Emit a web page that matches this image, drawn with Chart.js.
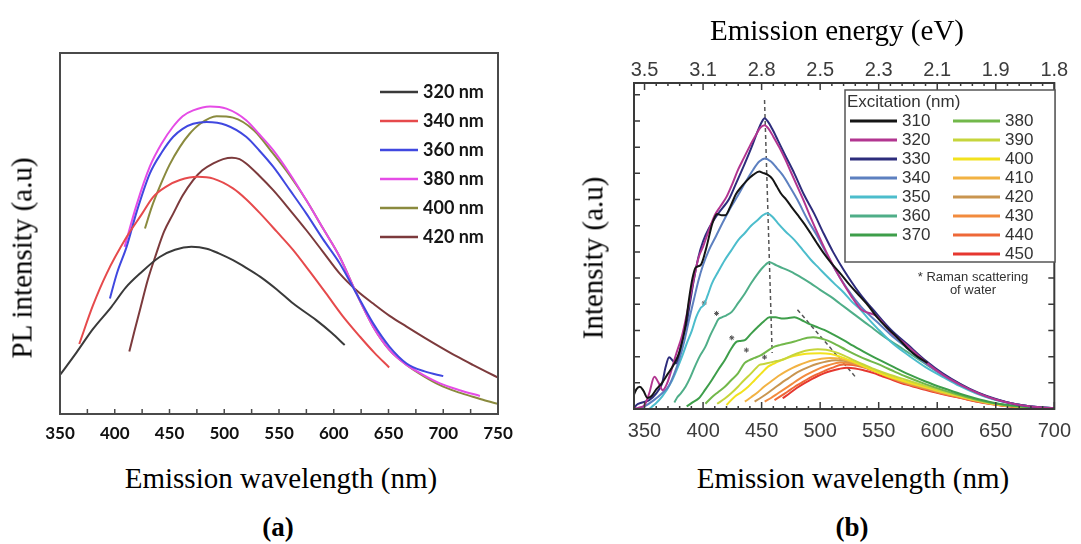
<!DOCTYPE html>
<html>
<head>
<meta charset="utf-8">
<script src="https://cdn.jsdelivr.net/npm/chart.js@4.4.1/dist/chart.umd.min.js"></script>
<style>
  body { margin: 0; width: 1081px; height: 544px; background: #fff; position: relative; overflow: hidden; }
  .cv { position: absolute; }
  .lbl { position: absolute; font-family: "Liberation Serif", "Times New Roman", serif; font-size: 29px; color: #000;
         white-space: nowrap; transform: translate(-50%, -50%); line-height: 1; }
  .rot { transform: translate(-50%, -50%) rotate(-90deg); }
  .tag { font-weight: bold; font-size: 27px; }
</style>
</head>
<body>
<canvas id="chartA" class="cv" style="left:0;top:0" width="540" height="460"></canvas>
<canvas id="chartB" class="cv" style="left:560px;top:40px" width="521" height="420"></canvas>

<div class="lbl rot" style="left:22px;top:258px">PL intensity (a.u)</div>
<div class="lbl" style="left:281px;top:478px">Emission wavelength (nm)</div>
<div class="lbl tag" style="left:278px;top:527px">(a)</div>
<div class="lbl" style="left:837px;top:30px">Emission energy (eV)</div>
<div class="lbl rot" style="left:593px;top:258px">Intensity (a.u)</div>
<div class="lbl" style="left:853px;top:478px">Emission wavelength (nm)</div>
<div class="lbl tag" style="left:852px;top:527px">(b)</div>

<script>
"use strict"

/* ---------- panel (a): PL spectra ---------- */
const aTicks = [350, 400, 450, 500, 550, 600, 650, 700, 750]
const aLabels = ['320 nm', '340 nm', '360 nm', '380 nm', '400 nm', '420 nm']

const a320x = [350, 365, 380, 397, 410, 423, 441, 455, 470, 484, 495, 508, 520, 533, 548, 563, 584, 598, 610]
const a320y = [10.8, 17, 23.5, 29.7, 35, 38.9, 43.5, 45.5, 46.3, 45.8, 44.5, 42.6, 40.5, 38, 34.5, 30.6, 26, 22.5, 19.1]
const a340x = [367.6, 380, 392.6, 410.8, 425, 435, 447, 459.5, 476, 490, 508, 520, 533, 548, 563, 578, 593, 608, 624, 637, 650.6]
const a340y = [19.4, 30, 38.9, 49, 55.5, 60.1, 63, 64.8, 65.7, 65.2, 62.5, 59.5, 55.5, 50.5, 45.4, 39.5, 33.4, 27.2, 21.4, 17, 12.9]
const a360x = [395.6, 402, 410.8, 420, 432, 443, 453.4, 462, 471.6, 484, 502, 520, 532, 544.7, 560, 575, 590, 605.5, 620.7, 636, 651, 666.5, 683, 700]
const a360y = [32, 39, 46.3, 56, 66.6, 72.5, 76.8, 79, 80.4, 80.9, 80, 76.8, 73, 68.5, 62, 55.5, 48.5, 41.7, 33.4, 25.1, 18.6, 14, 11.8, 10.5]
const a380x = [409, 420, 432, 443, 453, 462, 471.6, 487, 502, 520, 532, 544.7, 560, 575, 590, 605.5, 620.7, 636, 651, 666.5, 682, 697, 715, 733.5]
const a380y = [46.3, 58, 68.5, 75, 79.5, 82.5, 84.1, 85.2, 84.6, 81.4, 77.5, 73.1, 66.5, 59.2, 51.5, 43.5, 33.4, 24.2, 17.7, 13.6, 10.8, 8.5, 6.6, 5]
const a400x = [427.6, 434, 441, 450, 459.5, 468, 478, 493, 508, 527, 544.7, 560, 575, 590, 605.5, 620.7, 636, 651, 666.5, 682, 697, 712, 727, 740, 750]
const a400y = [51.4, 57.5, 62.9, 69, 74, 77.5, 80.4, 82.5, 82.1, 78.6, 72.1, 66, 59.2, 51.5, 43.5, 33.4, 24.2, 17.7, 13.6, 10.5, 8, 6.2, 4.8, 3.6, 2.8]
const a420x = [413.3, 418, 423, 430, 438, 445, 453.4, 462, 471.6, 480, 490, 499, 507, 514, 520, 532, 544.7, 560, 575, 590, 605.5, 620.7, 636, 651, 666.5, 682, 697, 712, 727, 740, 750]
const a420y = [17.3, 23, 28.8, 37, 44.5, 50.5, 55.5, 60.5, 64.8, 67.5, 69.4, 70.6, 71, 70.6, 69.4, 66, 62, 56.5, 50.9, 45, 38.9, 34.3, 30.6, 27.2, 24.2, 21.3, 18.6, 16, 13.6, 11.6, 10.1]

/* ---------- panel (b): excitation dependent spectra ---------- */
const nmTicks = [350, 400, 450, 500, 550, 600, 650, 700]
const evTickLabels = ['3.5', '3.1', '2.8', '2.5', '2.3', '2.1', '1.9', '1.8']
const bLabels = ['310', '320', '330', '340', '350', '360', '370', '380', '390', '400', '410', '420', '430', '440', '450']

const b310x = [341, 343, 346, 349, 352.5, 356, 360, 365, 370, 375, 380, 385, 388, 391, 393.6, 398, 403, 408, 412, 416, 419, 423, 428, 433, 438, 443, 448, 451, 455, 459, 463, 467, 471, 475, 480.6, 486, 492, 497, 503, 509, 517, 525, 534, 541, 548, 556, 565, 575, 583, 591.7]
const b310y = [0.55, 0.75, 0.85, 0.7, 0.42, 0.5, 0.75, 1.0, 1.35, 1.7, 2.2, 3.2, 4.2, 5.0, 5.4, 5.5, 6.2, 7.1, 7.45, 7.4, 7.4, 7.7, 8.2, 8.5, 8.75, 8.95, 9.07, 9.02, 8.95, 8.8, 8.5, 8.2, 8.0, 7.75, 7.42, 7.1, 6.7, 6.35, 5.95, 5.6, 5.19, 4.75, 4.3, 3.95, 3.54, 3.15, 2.77, 2.3, 2.0, 1.76]
const b320x = [341, 345, 350, 354, 358.4, 362, 365.5, 369, 373, 377, 382, 386, 390, 396, 400, 405, 410, 415, 420, 425, 430, 435, 440, 445, 449, 452.6, 456, 460, 465, 470, 475, 480, 486, 492, 500, 508, 517, 526, 535, 548, 560, 575, 590, 605, 620, 635, 650, 665, 680, 700]
const b320y = [0, 0.05, 0.15, 0.6, 1.23, 1.0, 0.72, 0.95, 1.49, 2.1, 2.8, 3.6, 4.5, 5.76, 6.2, 6.83, 7.4, 7.75, 8.1, 8.6, 9.15, 9.6, 10.05, 10.45, 10.75, 10.84, 10.7, 10.4, 10.0, 9.55, 9.05, 8.55, 7.95, 7.3, 6.5, 5.75, 5.0, 4.35, 3.8, 3.55, 2.95, 2.4, 1.8, 1.3, 0.92, 0.6, 0.36, 0.2, 0.1, 0.03]
const b330x = [341, 343, 348, 354, 360, 365, 368, 371, 374, 376.7, 380, 383, 386, 389, 392, 396, 400, 405, 413, 417, 421.7, 428, 435.7, 441, 447, 450, 452.6, 455, 459, 463.8, 470, 477.9, 486, 494.8, 503, 511, 520, 534, 548, 560, 575, 590, 605, 620, 635, 650, 665, 680, 700]
const b330y = [0, 0.15, 0.25, 0.34, 0.6, 0.98, 1.6, 1.98, 1.85, 1.74, 2.2, 2.8, 3.3, 4.1, 4.9, 5.8, 6.4, 6.9, 7.47, 7.7, 7.98, 8.6, 9.38, 9.95, 10.65, 10.95, 11.1, 11.0, 10.7, 10.27, 9.7, 9.0, 8.2, 7.47, 6.7, 6.0, 5.32, 4.4, 3.65, 3.05, 2.45, 1.85, 1.35, 0.95, 0.62, 0.38, 0.2, 0.1, 0.03]
const b340x = [345, 350, 358, 365, 371, 375, 379.5, 384, 388, 392, 396, 400, 405, 411, 417, 423, 430, 436, 442.5, 448, 453, 458, 463, 468, 474, 480.7, 489, 497.6, 510, 523, 535, 548, 560, 575, 590, 605, 620, 635, 650, 665, 680, 700]
const b340y = [0, 0.1, 0.34, 0.6, 0.9, 1.3, 1.87, 2.6, 3.4, 4.15, 4.9, 5.5, 6.07, 6.6, 7.14, 7.65, 8.17, 8.65, 9.12, 9.45, 9.57, 9.45, 9.2, 8.93, 8.5, 7.98, 7.25, 6.6, 5.55, 4.6, 3.9, 3.35, 2.85, 2.3, 1.75, 1.28, 0.9, 0.6, 0.36, 0.2, 0.1, 0.03]
const b350x = [354, 358, 365, 373.6, 382, 386, 390.5, 394, 397.8, 400.6, 404, 407.5, 413, 418.6, 424, 430, 435.7, 441, 446.9, 451, 455, 459, 463.8, 470, 477.9, 485, 492, 499, 506, 513, 520.5, 527, 534.6, 541, 548.6, 562, 576.7, 590, 605, 619, 633, 647, 661, 680, 700]
const b350y = [0, 0.15, 0.47, 1.1, 2.0, 2.5, 3.0, 3.5, 3.85, 3.97, 4.35, 4.79, 5.25, 5.69, 6.05, 6.45, 6.72, 7.0, 7.23, 7.4, 7.48, 7.35, 7.1, 6.8, 6.46, 6.08, 5.7, 5.38, 5.06, 4.75, 4.43, 4.1, 3.79, 3.45, 3.09, 2.5, 2.01, 1.6, 1.22, 0.88, 0.6, 0.38, 0.23, 0.1, 0.03]
const b360x = [375.5, 378, 381, 385, 389, 393, 397, 402, 406, 410.4, 413, 416, 420, 424.5, 430, 435.7, 441, 446.9, 452, 456.7, 462, 468, 475, 483, 492, 500, 509, 517, 526, 534, 543, 551, 560, 567, 573.7, 590, 605, 620, 633, 647, 661, 680, 700]
const b360y = [0.25, 0.45, 0.6, 0.85, 1.2, 1.62, 2.0, 2.38, 2.8, 3.2, 3.42, 3.5, 3.58, 3.71, 4.05, 4.41, 4.8, 5.18, 5.45, 5.6, 5.5, 5.38, 5.25, 5.05, 4.8, 4.55, 4.29, 4.02, 3.72, 3.45, 3.15, 2.88, 2.6, 2.4, 2.2, 1.72, 1.3, 0.94, 0.63, 0.4, 0.24, 0.1, 0.03]
const b370x = [386, 391, 396.4, 402, 407.5, 413, 418.6, 424, 428.7, 432, 435.7, 441, 446.9, 452, 456.7, 462, 467, 472, 478, 484, 489.5, 496, 503.5, 511, 520, 528, 537, 545, 554, 563, 573.7, 590, 605, 620, 633, 647, 661, 680, 700]
const b370y = [0.1, 0.25, 0.41, 0.75, 1.11, 1.5, 1.87, 2.3, 2.57, 2.6, 2.63, 2.88, 3.14, 3.35, 3.5, 3.5, 3.46, 3.47, 3.5, 3.4, 3.27, 3.15, 3.02, 2.85, 2.63, 2.42, 2.19, 2.0, 1.8, 1.6, 1.36, 1.05, 0.8, 0.57, 0.4, 0.25, 0.15, 0.07, 0.02]
const b380x = [402, 407.5, 413, 418.6, 424, 429.8, 435.4, 439.6, 444, 449.5, 455, 460.9, 466, 472, 478, 484, 489, 494, 500, 507, 514, 522, 531, 540, 548, 560, 573.7, 590, 605, 620, 633, 647, 661, 680, 700]
const b380y = [0.2, 0.45, 0.65, 0.85, 1.1, 1.36, 1.75, 1.87, 1.95, 2.06, 2.22, 2.38, 2.45, 2.51, 2.58, 2.66, 2.72, 2.74, 2.7, 2.6, 2.45, 2.26, 2.06, 1.88, 1.74, 1.5, 1.23, 0.95, 0.72, 0.52, 0.36, 0.23, 0.13, 0.06, 0.02]
const b390x = [412, 418.6, 424, 429.8, 435, 441, 445, 448, 452, 457.9, 463, 469, 476, 484, 491, 498, 505, 511.6, 520, 528.5, 538, 548, 560, 573.7, 590, 605, 620, 633, 647, 661, 680, 700]
const b390y = [0.2, 0.4, 0.6, 0.85, 1.1, 1.36, 1.55, 1.68, 1.72, 1.78, 1.83, 1.9, 2.05, 2.18, 2.25, 2.28, 2.26, 2.19, 2.05, 1.87, 1.68, 1.49, 1.3, 1.11, 0.88, 0.68, 0.5, 0.35, 0.22, 0.13, 0.06, 0.02]
const b400x = [420, 427, 433, 438.5, 444, 449.7, 455.5, 460, 464, 470, 478, 485, 492, 500, 509, 517, 526, 535, 548, 560, 573.7, 590, 605, 620, 633, 647, 661, 680, 700]
const b400y = [0.15, 0.47, 0.65, 0.85, 1.1, 1.36, 1.62, 1.72, 1.81, 1.92, 2.03, 2.09, 2.12, 2.13, 2.1, 2.0, 1.85, 1.68, 1.42, 1.22, 1.04, 0.84, 0.65, 0.48, 0.34, 0.21, 0.12, 0.05, 0.02]
const b410x = [435.7, 441, 447, 452, 458, 464, 470, 476, 482, 488, 494, 500, 508.7, 516, 524, 532, 540, 548, 560, 573.7, 590, 605, 620, 633, 647, 661, 680, 700]
const b410y = [0.28, 0.45, 0.65, 0.85, 1.05, 1.25, 1.42, 1.56, 1.68, 1.78, 1.86, 1.91, 1.95, 1.93, 1.84, 1.72, 1.58, 1.45, 1.22, 1.02, 0.82, 0.63, 0.47, 0.33, 0.2, 0.12, 0.05, 0.02]
const b420x = [444, 449, 455, 461, 467, 473, 479, 485, 491, 497, 504, 513, 520, 528, 536, 548, 560, 573.7, 590, 605, 620, 633, 647, 661, 680, 700]
const b420y = [0.28, 0.42, 0.6, 0.8, 1.0, 1.18, 1.36, 1.5, 1.62, 1.72, 1.8, 1.86, 1.84, 1.76, 1.63, 1.44, 1.22, 1.0, 0.8, 0.62, 0.46, 0.32, 0.2, 0.12, 0.05, 0.02]
const b430x = [452.6, 458, 464, 470, 476, 482, 488, 494, 500, 507, 517, 525, 533, 540, 548, 560, 573.7, 590, 605, 620, 633, 647, 661, 680, 700]
const b430y = [0.28, 0.42, 0.6, 0.78, 0.96, 1.14, 1.3, 1.44, 1.56, 1.67, 1.78, 1.76, 1.68, 1.57, 1.42, 1.2, 0.98, 0.78, 0.6, 0.45, 0.31, 0.19, 0.11, 0.05, 0.02]
const b440x = [461, 466, 472, 478, 484, 490, 496, 503, 510, 520, 528, 536, 543, 550, 560, 573.7, 590, 605, 620, 633, 647, 661, 680, 700]
const b440y = [0.34, 0.48, 0.66, 0.84, 1.0, 1.16, 1.3, 1.44, 1.57, 1.7, 1.68, 1.6, 1.5, 1.38, 1.18, 0.96, 0.76, 0.58, 0.43, 0.3, 0.19, 0.11, 0.05, 0.02]
const b450x = [468, 474, 480, 486.3, 492, 498, 503.2, 510, 516, 523, 530, 537, 545, 552, 560, 573.7, 590, 605, 620, 633, 647, 661, 680, 700]
const b450y = [0.41, 0.6, 0.8, 0.98, 1.12, 1.26, 1.36, 1.46, 1.53, 1.58, 1.55, 1.48, 1.38, 1.27, 1.14, 0.93, 0.73, 0.56, 0.42, 0.29, 0.18, 0.1, 0.05, 0.02]

// guide lines and Raman marks
const peakGuideX = [452.5, 459]
const peakGuideY = [11.8, 2.14]
const shiftGuideX = [480.6, 531]
const shiftGuideY = [3.79, 1.18]
const ramanX = [401, 411.5, 424.5, 437, 452.5]
const ramanY = [4.05, 3.65, 2.72, 2.25, 1.98]

/* ---------- styles ---------- */
const aColors = ['#3a3a3a', '#e64a4c', '#4048e0', '#e54ce6', '#8a8a3e', '#7c3a3c']
const bColors = ['#151515', '#b23590', '#2d2c7c', '#5d80c0', '#4cbdcc', '#4fae88', '#3e9e4a',
                 '#72b84a', '#c6d53c', '#f2e21e', '#f2b243', '#c99550', '#f28b3e', '#ee6838', '#e6372f']

const toXY = (xs, ys) => xs.map((x, i) => ({ x, y: ys[i] }))

/* frame + inward ticks drawn through the scales */
const framePlugin = {
    id: 'frame',
    afterDatasetsDraw(chart, args, o) {
        const { ctx, chartArea: ca } = chart
        ctx.save()
        ctx.strokeStyle = o.color
        ;(o.ticks || []).forEach(t => {
            const s = chart.scales[t.scale]
            const lo = Math.ceil(s.min / t.step - 1e-9)
            ctx.lineWidth = t.width
            ctx.beginPath()
            for (let k = lo; k * t.step <= s.max + 1e-9; k++) {
                const v = k * t.step
                const major = t.major && Math.abs(v / t.major - Math.round(v / t.major)) < 1e-6
                const len = major ? t.majorLen : t.len
                const p = s.getPixelForValue(v)
                t.sides.forEach(side => {
                    if (side === 'bottom') { ctx.moveTo(p, ca.bottom); ctx.lineTo(p, ca.bottom - len) }
                    if (side === 'top') { ctx.moveTo(p, ca.top); ctx.lineTo(p, ca.top + len) }
                    if (side === 'left') { ctx.moveTo(ca.left, p); ctx.lineTo(ca.left + len, p) }
                    if (side === 'right') { ctx.moveTo(ca.right, p); ctx.lineTo(ca.right - len, p) }
                })
            }
            ctx.stroke()
        })
        ctx.lineWidth = o.width
        ctx.strokeRect(ca.left, ca.top, ca.right - ca.left, ca.bottom - ca.top)
        ctx.restore()
    }
}

/* legend drawn from the datasets, placed relative to the chart area */
const boxLegend = {
    id: 'boxLegend',
    afterDraw(chart, args, o) {
        const { ctx, chartArea: ca } = chart
        const items = chart.data.datasets.filter(d => !d.noLegend)
        ctx.save()
        if (o.box) {
            ctx.fillStyle = '#fff'
            ctx.fillRect(ca.left + o.box.x, ca.top + o.box.y, o.box.w, o.box.h)
            ctx.strokeStyle = o.box.color
            ctx.lineWidth = o.box.width
            ctx.strokeRect(ca.left + o.box.x, ca.top + o.box.y, o.box.w, o.box.h)
        }
        ctx.font = o.font
        ctx.fillStyle = o.textColor
        ctx.textBaseline = 'middle'
        ctx.textAlign = 'left'
        if (o.title) ctx.fillText(o.title, ca.left + o.titleX, ca.top + o.titleY)
        let n = 0
        o.columns.forEach(col => {
            for (let r = 0; r < col.count; r++, n++) {
                const ds = items[n]
                const x = ca.left + col.x
                const y = ca.top + o.rowY + r * o.rowH
                ctx.strokeStyle = ds.borderColor
                ctx.lineWidth = o.lineWidth
                ctx.beginPath()
                ctx.moveTo(x, y)
                ctx.lineTo(x + o.lineLen, y)
                ctx.stroke()
                ctx.fillText(ds.label, x + o.lineLen + o.gap, y)
            }
        })
        if (o.notes) {
            ctx.font = o.noteFont
            ctx.textAlign = 'center'
            o.notes.forEach(nt => ctx.fillText(nt.text, ca.left + nt.x, ca.top + nt.y))
        }
        ctx.restore()
    }
}

/* ---------- chart (a) ---------- */
const aSeries = [[a320x, a320y], [a340x, a340y], [a360x, a360y], [a380x, a380y], [a400x, a400y], [a420x, a420y]]

new Chart(document.getElementById('chartA'), {
    type: 'line',
    data: {
        datasets: aSeries.map((s, i) => ({
            label: aLabels[i],
            data: toXY(s[0], s[1]),
            borderColor: aColors[i],
            borderWidth: 2,
            pointRadius: 0,
            fill: false,
            cubicInterpolationMode: 'monotone'
        }))
    },
    options: {
        responsive: false,
        animation: false,
        layout: { padding: { top: 53, right: 42, left: 0, bottom: 0 } },
        plugins: {
            legend: { display: false },
            tooltip: { enabled: false },
            frame: {
                color: '#4a4a4a', width: 2,
                ticks: [{ scale: 'x', step: 25, len: 5, width: 1.5, sides: ['bottom'] }]
            },
            boxLegend: {
                font: 'bold 18px Lato', textColor: '#151515',
                lineWidth: 2.5, lineLen: 38, gap: 5,
                rowY: 39, rowH: 29,
                columns: [{ x: 320, count: 6 }]
            }
        },
        scales: {
            x: {
                type: 'linear', min: 350, max: 750,
                afterBuildTicks: s => { s.ticks = aTicks.map(v => ({ value: v })) },
                afterFit: s => { s.height = 46 },
                grid: { display: false, drawTicks: false },
                border: { display: false },
                ticks: { font: { family: 'Lato', weight: 'bold', size: 17 }, color: '#111', padding: 9, maxRotation: 0, autoSkip: false }
            },
            y: {
                min: 0, max: 100,
                afterFit: s => { s.width = 60 },
                grid: { display: false, drawTicks: false },
                border: { display: false },
                ticks: { display: false }
            }
        }
    },
    plugins: [framePlugin, boxLegend]
})

/* ---------- chart (b) ---------- */
const bSeries = [[b310x, b310y], [b320x, b320y], [b330x, b330y], [b340x, b340y], [b350x, b350y],
                 [b360x, b360y], [b370x, b370y], [b380x, b380y], [b390x, b390y], [b400x, b400y],
                 [b410x, b410y], [b420x, b420y], [b430x, b430y], [b440x, b440y], [b450x, b450y]]

const bDatasets = bSeries.map((s, i) => ({
    label: bLabels[i],
    data: toXY(s[0], s[1]),
    borderColor: bColors[i],
    borderWidth: 2,
    pointRadius: 0,
    fill: false,
    cubicInterpolationMode: 'monotone'
}))
bDatasets.push(
    { label: 'peak', noLegend: true, data: toXY(peakGuideX, peakGuideY), borderColor: '#555',
      borderWidth: 1.5, borderDash: [4, 3], pointRadius: 0, fill: false },
    { label: 'shift', noLegend: true, data: toXY(shiftGuideX, shiftGuideY), borderColor: '#555',
      borderWidth: 1.5, borderDash: [4, 3], pointRadius: 0, fill: false },
    { label: 'raman', noLegend: true, data: toXY(ramanX, ramanY), showLine: false, pointStyle: 'star',
      pointRadius: 2.5, pointBorderColor: '#555', pointBorderWidth: 1, borderColor: '#555' }
)

new Chart(document.getElementById('chartB'), {
    type: 'line',
    data: { datasets: bDatasets },
    options: {
        responsive: false,
        animation: false,
        layout: { padding: { top: 0, right: 21, left: 0, bottom: 0 } },
        plugins: {
            legend: { display: false },
            tooltip: { enabled: false },
            frame: {
                color: '#3a3a3a', width: 2,
                ticks: [
                    { scale: 'x', step: 10, major: 50, len: 3, majorLen: 7, width: 1.5, sides: ['bottom', 'top'] },
                    { scale: 'y', step: 1, len: 6, width: 1.5, sides: ['left', 'right'] }
                ]
            },
            boxLegend: {
                font: '17px "Liberation Sans"', textColor: '#333',
                lineWidth: 3, lineLen: 47, gap: 5,
                box: { x: 211, y: 7, w: 210, h: 172, color: '#555', width: 1.5 },
                title: 'Excitation (nm)', titleX: 213, titleY: 19,
                rowY: 38, rowH: 19,
                columns: [{ x: 216, count: 7 }, { x: 319, count: 8 }],
                noteFont: '13px "Liberation Sans"',
                notes: [{ text: '* Raman scattering', x: 339, y: 194 }, { text: 'of water', x: 339, y: 207 }]
            }
        },
        scales: {
            x: {
                type: 'linear', min: 341, max: 700, position: 'bottom',
                afterBuildTicks: s => { s.ticks = nmTicks.map(v => ({ value: v })) },
                afterFit: s => { s.height = 51 },
                grid: { display: false, drawTicks: false },
                border: { display: false },
                ticks: { font: { family: 'Liberation Sans', size: 20 }, color: '#3c3c3c', padding: 10, maxRotation: 0, autoSkip: false }
            },
            x2: {
                type: 'linear', min: 341, max: 700, position: 'top',
                afterBuildTicks: s => { s.ticks = nmTicks.map(v => ({ value: v })) },
                afterFit: s => { s.height = 43 },
                grid: { display: false, drawTicks: false },
                border: { display: false },
                ticks: { font: { family: 'Liberation Sans', size: 20 }, color: '#3c3c3c', padding: 1, maxRotation: 0, autoSkip: false,
                         callback: (v, i) => evTickLabels[i] }
            },
            y: {
                min: 0, max: 12.45,
                afterFit: s => { s.width = 74 },
                grid: { display: false, drawTicks: false },
                border: { display: false },
                ticks: { display: false }
            }
        }
    },
    plugins: [framePlugin, boxLegend]
})
</script>
</body>
</html>
